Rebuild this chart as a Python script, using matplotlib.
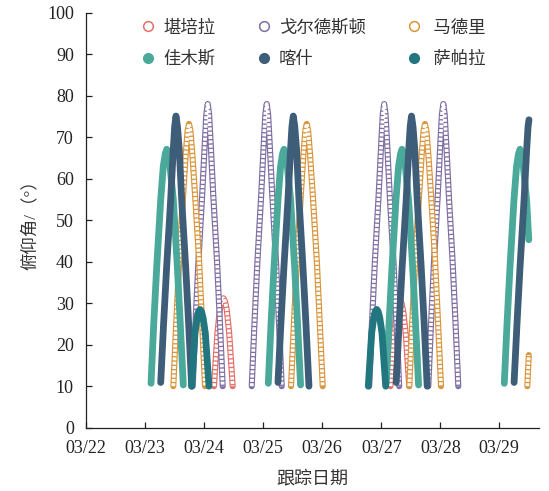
import matplotlib
matplotlib.use("Agg")
import matplotlib.pyplot as plt
from matplotlib.lines import Line2D

plt.rcParams['font.family'] = ['Liberation Serif', 'Noto Sans CJK SC']

# x: days since 03/22 00:00
day_ticks = [0, 1, 2, 3, 4, 5, 6, 7]
day_labels = ['03/22', '03/23', '03/24', '03/25', '03/26', '03/27', '03/28', '03/29']

# 堪培拉
kp_t = [[2.164, 2.222, 2.264, 2.294, 2.322, 2.350, 2.380, 2.422, 2.481],
        [5.155, 5.215, 5.257, 5.287, 5.315, 5.343, 5.373, 5.415, 5.474]]
kp_el = [[10, 22.8, 28.5, 30.5, 31.2, 30.5, 28.5, 22.8, 10],
         [10, 22.5, 28, 30, 30.7, 30, 28, 22.5, 10]]

# 戈尔德斯顿
gd_t = [[1.804, 1.850, 1.900, 1.964, 2.006, 2.034, 2.058, 2.082, 2.110, 2.152, 2.216, 2.266, 2.312],
        [2.804, 2.850, 2.900, 2.964, 3.006, 3.034, 3.058, 3.082, 3.110, 3.152, 3.216, 3.266, 3.312],
        [4.795, 4.841, 4.891, 4.955, 4.997, 5.025, 5.049, 5.073, 5.101, 5.143, 5.207, 5.257, 5.303],
        [5.797, 5.843, 5.893, 5.957, 5.999, 6.027, 6.051, 6.075, 6.103, 6.145, 6.209, 6.259, 6.305]]
gd_el = [[10, 25, 40, 56, 68, 75.5, 78, 75.5, 68, 56, 40, 25, 10]] * 4

# 马德里
md_t = [[1.475, 1.523, 1.574, 1.641, 1.686, 1.716, 1.741, 1.766, 1.797, 1.844, 1.913, 1.963, 2.012],
        [3.470, 3.518, 3.569, 3.636, 3.681, 3.711, 3.736, 3.761, 3.792, 3.839, 3.908, 3.958, 4.007],
        [5.475, 5.523, 5.574, 5.641, 5.686, 5.716, 5.741, 5.766, 5.797, 5.844, 5.913, 5.963, 6.012],
        [7.475, 7.500]]
md_el = [[10, 25, 40, 56, 66, 71.5, 73.2, 71.5, 66, 56, 40, 25, 10],
         [10, 25, 40, 56, 66, 71.5, 73.2, 71.5, 66, 56, 40, 25, 10],
         [10, 25, 40, 56, 66, 71.5, 73.2, 71.5, 66, 56, 40, 25, 10],
         [10, 17.5]]

# 佳木斯
jms_t = [[1.097, 1.143, 1.194, 1.261, 1.305, 1.338, 1.363, 1.388, 1.419, 1.475, 1.543, 1.593, 1.644],
         [3.085, 3.131, 3.182, 3.249, 3.293, 3.326, 3.351, 3.376, 3.407, 3.463, 3.531, 3.581, 3.632],
         [5.085, 5.131, 5.182, 5.249, 5.293, 5.326, 5.351, 5.376, 5.407, 5.463, 5.531, 5.581, 5.632],
         [7.085, 7.131, 7.182, 7.249, 7.293, 7.326, 7.351, 7.376, 7.407, 7.463, 7.500]]
jms_el = [[10.7, 25, 38.8, 54.9, 63, 66, 67.1, 66, 63, 54.9, 38.8, 25, 10.3],
          [10.7, 25, 38.8, 54.9, 63, 66, 67.1, 66, 63, 54.9, 38.8, 25, 10.3],
          [10.7, 25, 38.8, 54.9, 63, 66, 67.1, 66, 63, 54.9, 38.8, 25, 10.3],
          [10.7, 25, 38.8, 54.9, 63, 66, 67.1, 66, 63, 54.9, 45.3]]

# 喀什
ks_t = [[1.261, 1.310, 1.362, 1.430, 1.474, 1.498, 1.520, 1.545, 1.576, 1.617, 1.684, 1.735, 1.786],
        [3.249, 3.298, 3.350, 3.418, 3.462, 3.486, 3.508, 3.533, 3.564, 3.605, 3.672, 3.723, 3.774],
        [5.253, 5.302, 5.354, 5.422, 5.466, 5.490, 5.512, 5.537, 5.568, 5.609, 5.676, 5.727, 5.778],
        [7.251, 7.300, 7.352, 7.420, 7.464, 7.488, 7.503]]
ks_el = [[10.9, 25, 38.8, 54.9, 67, 72.6, 75.1, 72.6, 67, 54.9, 38.8, 25, 10],
         [10.9, 25, 38.8, 54.9, 67, 72.6, 75.1, 72.6, 67, 54.9, 38.8, 25, 10],
         [10.9, 25, 38.8, 54.9, 67, 72.6, 75.1, 72.6, 67, 54.9, 38.8, 25, 10],
         [10.9, 25, 38.8, 54.9, 67, 72.6, 74.2]]

# 萨帕拉
sp_t = [[1.786, 1.842, 1.877, 1.902, 1.927, 1.952, 1.979, 2.017, 2.080],
        [4.780, 4.837, 4.872, 4.897, 4.922, 4.947, 4.974, 5.012, 5.075]]
sp_el = [[10, 22.8, 26.5, 28, 28.5, 28, 26.5, 22.8, 10]] * 2

hollow = [('堪培拉', kp_t, kp_el, '#e4706a'),
          ('戈尔德斯顿', gd_t, gd_el, '#7f6fa3'),
          (' 马德里', md_t, md_el, '#da963c')]
filled = [('佳木斯', jms_t, jms_el, '#4aa99a'),
          ('喀什', ks_t, ks_el, '#3e5d79'),
          (' 萨帕拉', sp_t, sp_el, '#21767f')]

fig = plt.figure(figsize=(5.49, 4.91), dpi=100)
ax = fig.add_axes([0.1572, 0.1289, 0.8251, 0.8452])

# hollow circle tracks: coloured tube with a dashed white core
for name, ts, els, c in hollow:
    for t, el in zip(ts, els):
        ax.plot(t, el, color=c, lw=4.4, solid_capstyle='round',
                solid_joinstyle='round', zorder=2)
        ax.plot(t, el, color='white', lw=2.7, dashes=(0.8, 0.35),
                dash_capstyle='butt', zorder=2)

for name, ts, els, c in filled:
    for t, el in zip(ts, els):
        ax.plot(t, el, color=c, lw=4.9, solid_capstyle='round',
                solid_joinstyle='round', zorder=3)

ax.set_xlim(0, 7.678)
ax.set_ylim(0, 100)
ax.set_xticks(day_ticks)
ax.set_xticklabels(day_labels)
ax.set_yticks(range(0, 101, 10))
for s in ['top', 'right']:
    ax.spines[s].set_visible(False)
for s in ['left', 'bottom']:
    ax.spines[s].set_linewidth(0.9)
    ax.spines[s].set_color('#222222')
ax.tick_params(direction='in', length=4, width=0.9, pad=9, labelsize=13,
               colors='#222222')

ax.set_ylabel('俯仰角/（°）', fontsize=12.5, color='#333333')
ax.yaxis.set_label_coords(-0.105, 0.5)
ax.set_xlabel('跟踪日期', fontsize=13, color='#333333')
ax.xaxis.set_label_coords(0.5, -0.104)

handles, labels = [], []
for (hn, _, _, hc), (fn, _, _, fc) in zip(hollow, filled):
    handles.append(Line2D([], [], ls='none', marker='o', ms=7, mfc='none',
                          mec=hc, mew=1.1))
    labels.append(hn)
    handles.append(Line2D([], [], ls='none', marker='o', ms=7, mfc=fc,
                          mec=fc))
    labels.append(fn)
ax.legend(handles, labels, ncol=3, frameon=False, loc='upper left',
          bbox_to_anchor=(0.1066, 0.999), borderaxespad=0,
          handlelength=0.8, handletextpad=0.45, columnspacing=2.4,
          labelspacing=0.86, fontsize=12.5, labelcolor='#333333')

fig.savefig('out.png', dpi=100)
